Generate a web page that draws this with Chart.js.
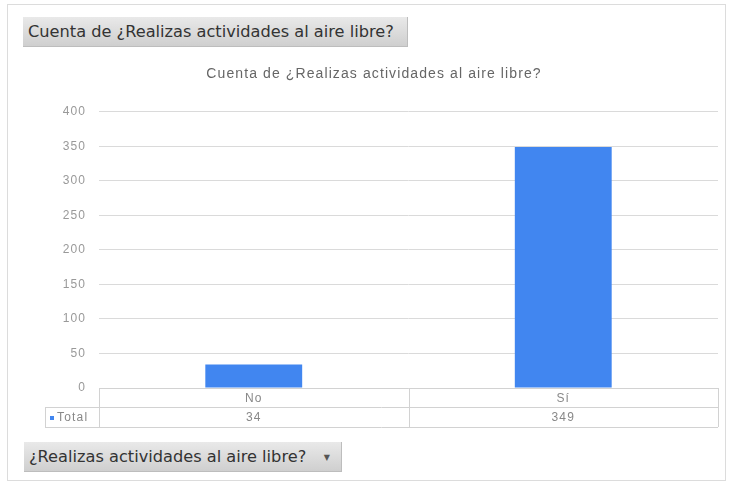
<!DOCTYPE html>
<html>
<head>
<meta charset="utf-8">
<script src="https://cdn.jsdelivr.net/npm/chart.js@4"></script>
<style>
  html, body { margin: 0; padding: 0; background: #fff; }
  #marco { position: absolute; left: 7px; top: 4px; width: 717px; height: 475px; border: 1px solid #dcdcdc; }
  #wrap { position: absolute; left: 0; top: 0; width: 734px; height: 483px; }
  .boton {
    position: absolute; height: 30px; line-height: 30px; box-sizing: border-box;
    padding-left: 5px; color: #333; font-family: "DejaVu Sans", sans-serif; font-size: 16.2px;
    background: linear-gradient(#e9e9e9, #cfcfcf); border-right: 1px solid #bdbdbd; border-bottom: 1px solid #bdbdbd;
    white-space: nowrap; z-index: 2;
  }
  #btnTitulo { left: 23px; top: 17px; width: 385px; }
  #btnFiltro { left: 24px; top: 442px; width: 318px; }
  #btnFiltro .flecha { position: absolute; right: 11px; top: 1px; font-size: 8px; color: #555; }
</style>
</head>
<body>
<div id="marco"></div>
<div id="btnTitulo" class="boton">Cuenta de ¿Realizas actividades al aire libre?</div>
<div id="btnFiltro" class="boton">¿Realizas actividades al aire libre?<span class="flecha">▼</span></div>
<div id="wrap"><canvas id="grafico"></canvas></div>
<script>
// Datos del gráfico
const categorias = ['No', 'Sí'];
const totales = [34, 349];
const serie = 'Total';
const titulo = 'Cuenta de ¿Realizas actividades al aire libre?';
const ticksY = [0, 50, 100, 150, 200, 250, 300, 350, 400];

const azul = '#4186f0';

// Espaciado de letras para el título y los ticks
const espaciado = {
    id: 'espaciado',
    beforeDraw(chart) { chart.ctx.letterSpacing = '1.1px'; }
};

// Tabla de datos bajo el eje X
const tablaDatos = {
    id: 'tablaDatos',
    afterDraw(chart) {
        const ctx = chart.ctx;
        const area = chart.chartArea;
        const n = categorias.length;
        const ancho = area.width / n;
        const y0 = area.bottom, y1 = y0 + 19, y2 = y1 + 20;
        const xIzq = 45;

        ctx.save();
        ctx.strokeStyle = '#d2d2d2';
        ctx.lineWidth = 1;
        ctx.beginPath();
        ctx.moveTo(area.left, y0 + 0.5); ctx.lineTo(area.right, y0 + 0.5);
        ctx.moveTo(xIzq, y1 + 0.5); ctx.lineTo(area.right, y1 + 0.5);
        ctx.moveTo(xIzq, y2 + 0.5); ctx.lineTo(area.right, y2 + 0.5);
        ctx.moveTo(xIzq + 0.5, y1); ctx.lineTo(xIzq + 0.5, y2);
        for (let k = 0; k <= n; k++) {
            const x = Math.round(area.left + k * ancho) + 0.5;
            ctx.moveTo(x, y0); ctx.lineTo(x, y2);
        }
        ctx.stroke();

        ctx.letterSpacing = '1.2px';
        ctx.fillStyle = '#888';
        ctx.font = '12px "Liberation Sans", Arial, sans-serif';
        ctx.textAlign = 'center';
        ctx.textBaseline = 'middle';
        const xs = chart.scales.x;
        categorias.forEach((c, i) => {
            const cx = xs.getPixelForValue(i);
            ctx.fillText(c, cx, (y0 + y1) / 2 + 1);
            ctx.fillText(String(totales[i]), cx, (y1 + y2) / 2 + 1);
        });
        ctx.textAlign = 'left';
        ctx.fillText(serie, 57, (y1 + y2) / 2 + 1);
        ctx.fillStyle = azul;
        ctx.fillRect(50, (y1 + y2) / 2 - 1, 4, 4);
        ctx.restore();
        ctx.letterSpacing = '0px';
    }
};

const ctx = document.getElementById('grafico').getContext('2d');
new Chart(ctx, {
    type: 'bar',
    data: {
        labels: categorias,
        datasets: [ {
            label: serie,
            data: totales,
            backgroundColor: azul,
            borderWidth: 0,
            categoryPercentage: 1,
            barPercentage: 0.313
        } ]
    },
    options: {
        responsive: true,
        maintainAspectRatio: false,
        animation: false,
        layout: { padding: { top: 58, left: 30, right: 16, bottom: 95 } },
        plugins: {
            legend: { display: false },
            tooltip: { enabled: false },
            title: {
                display: true,
                text: titulo,
                color: '#666',
                font: { family: '"Liberation Sans", Arial, sans-serif', size: 14, weight: 'normal' },
                padding: { top: 8, bottom: 29 }
            }
        },
        scales: {
            x: { display: false },
            y: {
                min: 0,
                max: 400,
                afterBuildTicks: scale => { scale.ticks = ticksY.map(v => ({ value: v })); },
                afterFit: scale => { scale.width = 69; },
                ticks: {
                    color: '#999',
                    padding: 13,
                    font: { family: '"Liberation Sans", Arial, sans-serif', size: 12 }
                },
                grid: { color: '#dadada', drawTicks: false },
                border: { display: false }
            }
        }
    },
    plugins: [espaciado, tablaDatos]
});
</script>
</body>
</html>
